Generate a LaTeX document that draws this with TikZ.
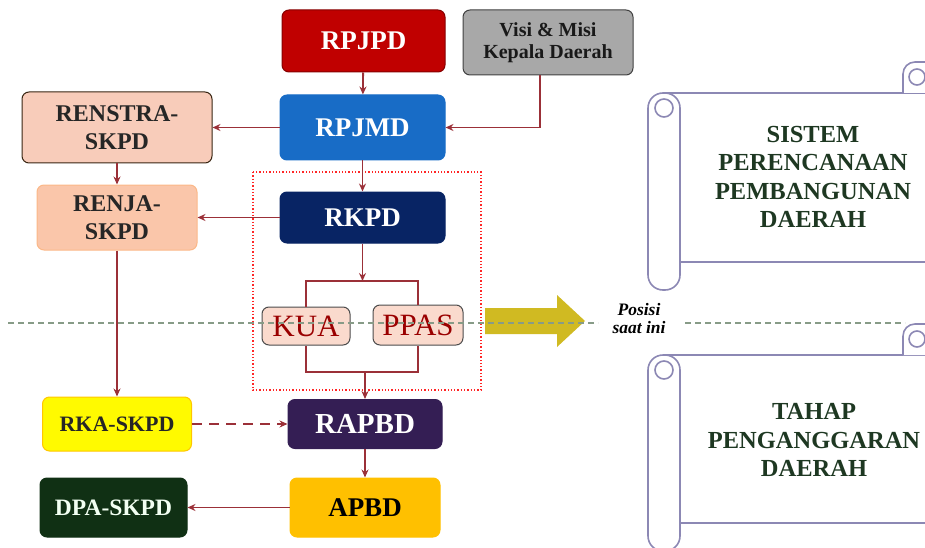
\documentclass[tikz,border=0pt]{standalone}
\usepackage{fontspec}
\setmainfont{Liberation Serif}
\usepackage{xcolor}
\usetikzlibrary{arrows.meta}

\definecolor{alur}{RGB}{155,48,56}
\definecolor{merahtua}{RGB}{192,0,0}
\definecolor{biru}{RGB}{24,108,198}
\definecolor{navy}{RGB}{8,36,100}
\definecolor{ungu}{RGB}{52,30,84}
\definecolor{emas}{RGB}{255,192,0}
\definecolor{kuning}{RGB}{255,250,0}
\definecolor{hijautua}{RGB}{16,48,20}
\definecolor{merahmuda}{RGB}{248,204,186}
\definecolor{salem}{RGB}{250,198,170}
\definecolor{abu}{RGB}{168,168,168}
\definecolor{krem}{RGB}{250,218,205}
\definecolor{gulung}{RGB}{140,136,180}
\definecolor{zaitun}{RGB}{208,186,34}
\definecolor{garisabu}{RGB}{135,155,135}
\definecolor{teksgulung}{RGB}{30,56,34}

\newcommand{\fsz}[2]{\fontsize{#1}{#2}\selectfont}
% scroll: #1 top of body, #2 bottom of body
\newcommand{\gulungan}[2]{%
  \draw[gulungline, fill=white] (664,#1) -- (935,#1) -- (935,#2) -- (680,#2);
  \draw[gulungline, fill=white, rounded corners=12pt] (903,#1) -- (903,#1-31) -- (945,#1-31) -- (945,#1);
  \draw[gulungline] (917,#1-16) circle (8);
  \draw[gulungline, fill=white, rounded corners=15pt] (648,#1) rectangle (680,#2+28);
  \draw[gulungline] (664,#1+15) circle (9);
}

\begin{document}
\begin{tikzpicture}[x=1pt, y=-1pt,
  box/.style={draw, rounded corners=7pt, align=center, font=\bfseries\fsz{27}{28},
              inner sep=2pt, line width=1pt},
  alir/.style={draw=alur, line width=1.8pt, -{Stealth[length=8pt,width=7pt]}},
  garis/.style={draw=alur, line width=1.8pt},
  gulungline/.style={draw=gulung, line width=1.6pt},
  pemisah/.style={draw=garisabu, line width=1.4pt, dash pattern=on 6pt off 4pt},
  teksscroll/.style={align=center, text=teksgulung, font=\bfseries\fsz{24.5}{28.5}}]
\useasboundingbox (0,0) rectangle (925,548);
\clip (0,0) rectangle (925,548);

% scrolls on the right
\gulungan{93}{262}
\gulungan{355}{523}
\node[teksscroll] (sistem) at (813,177) {SISTEM\\PERENCANAAN\\PEMBANGUNAN\\DAERAH};
\node[teksscroll] (tahap) at (814,440) {TAHAP\\PENGANGGARAN\\DAERAH};

% boxes
\node[box, fill=merahtua, draw=merahtua!70!black, text=white,
      minimum width=163pt, minimum height=62pt] (rpjpd) at (363.5,41) {RPJPD};
\node[box, fill=abu, draw=black!75, text=black!90, font=\bfseries\fsz{20}{22},
      minimum width=170pt, minimum height=65pt] (visi) at (548,42.5) {Visi \& Misi\\Kepala Daerah};
\node[box, fill=biru, draw=biru, text=white,
      minimum width=165pt, minimum height=65pt] (rpjmd) at (362.5,127.5) {RPJMD};
\node[box, fill=merahmuda, draw=black!70!brown, text=black!85, font=\bfseries\fsz{24}{28},
      minimum width=190pt, minimum height=71pt] (renstra) at (117,127.5) {RENSTRA-\\SKPD};
\node[box, fill=salem, draw=salem!80!orange, text=black!85, font=\bfseries\fsz{24}{28},
      minimum width=160pt, minimum height=65pt] (renja) at (117,217.5) {RENJA-\\SKPD};
\node[box, fill=navy, draw=navy, text=white,
      minimum width=165pt, minimum height=51pt] (rkpd) at (362.5,217.5) {RKPD};
\node[box, fill=krem, draw=black!70, text=merahtua!80!black, font=\fsz{31}{32},
      minimum width=88pt, minimum height=38pt] (kua) at (306,326) {KUA};
\node[box, fill=krem, draw=black!70, text=merahtua!80!black, font=\fsz{31}{32},
      minimum width=90pt, minimum height=40pt] (ppas) at (418,325) {PPAS};
\node[box, fill=ungu, draw=ungu, text=white, font=\bfseries\fsz{29}{30},
      minimum width=154pt, minimum height=49pt] (rapbd) at (365,424) {RAPBD};
\node[box, fill=emas, draw=emas, text=black,
      minimum width=150pt, minimum height=59pt] (apbd) at (365,507.5) {APBD};
\node[box, fill=kuning, draw=emas!90!yellow, text=black!85, font=\bfseries\fsz{22}{24},
      minimum width=149pt, minimum height=54pt] (rka) at (117,424) {RKA-SKPD};
\node[box, fill=hijautua, draw=hijautua, text=green!5!white, font=\bfseries\fsz{23.5}{25},
      minimum width=147pt, minimum height=59pt] (dpa) at (113.5,507.5) {DPA-SKPD};

% dotted frame round RKPD, KUA and PPAS
\draw[draw=red!80!pink, line width=1.3pt, dotted] (253,172) rectangle (481,390);

% connectors
\coordinate (cabang) at (362.5,281);
\coordinate (gabung) at (365,372);
\draw[alir] (rpjpd) -- (rpjmd);
\draw[alir] ([xshift=-8pt]visi.south) |- (rpjmd.east);
\draw[alir] (rpjmd) -- (renstra);
\draw[alir] (renstra) -- (renja);
\draw[alir] (rpjmd) -- (rkpd);
\draw[alir] (rkpd) -- (renja);
\draw[alir] (renja) -- (rka);
\draw[alir] (rkpd) -- (cabang);
\draw[garis] (kua.north) -- (kua.north |- cabang) -- (ppas.north |- cabang) -- (ppas.north);
\draw[garis] (kua.south) -- (kua.south |- gabung) -- (ppas.south |- gabung) -- (ppas.south);
\draw[alir] (gabung) -- (rapbd);
\draw[alir, dash pattern=on 10pt off 7pt] (rka) -- (rapbd);
\draw[alir] (rapbd) -- (apbd);
\draw[alir] (apbd) -- (dpa);

% yellow arrow and the line of the present position
\fill[zaitun] (485,308) -- (557,308) -- (557,295) -- (585,321) -- (557,347)
  -- (557,334) -- (485,334) -- cycle;
\draw[pemisah] (8,323) -- (598,323);
\draw[pemisah] (685,323) -- (905,323);
\node[align=center, font=\bfseries\itshape\fsz{17.5}{18}] (posisi) at (639,319) {Posisi\\saat ini};
\end{tikzpicture}
\end{document}
